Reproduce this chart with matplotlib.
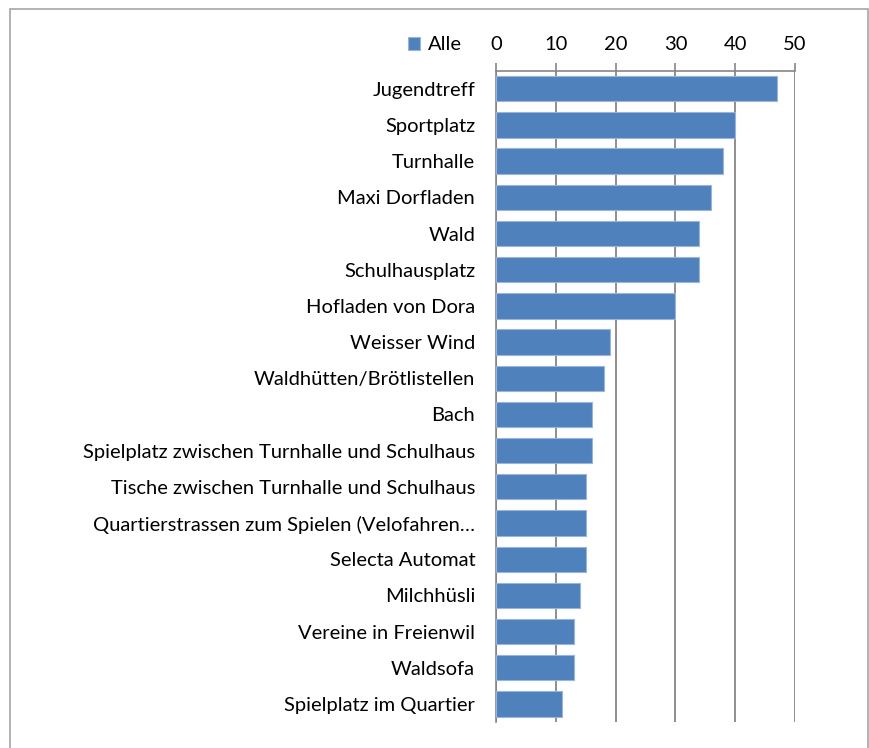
import matplotlib
matplotlib.use("Agg")
import matplotlib.pyplot as plt
from matplotlib.patches import Rectangle

plt.rcParams["font.family"] = ["Lato", "DejaVu Sans"]

# data (top to bottom as in the chart)
orte = [
    "Jugendtreff",
    "Sportplatz",
    "Turnhalle",
    "Maxi Dorfladen",
    "Wald",
    "Schulhausplatz",
    "Hofladen von Dora",
    "Weisser Wind",
    "Waldhütten/Brötlistellen",
    "Bach",
    "Spielplatz zwischen Turnhalle und Schulhaus",
    "Tische zwischen Turnhalle und Schulhaus",
    "Quartierstrassen zum Spielen (Velofahren…",
    "Selecta Automat",
    "Milchhüsli",
    "Vereine in Freienwil",
    "Waldsofa",
    "Spielplatz im Quartier",
]
alle = [47, 40, 38, 36, 34, 34, 30, 19, 18, 16, 16, 15, 15, 15, 14, 13, 13, 11]
x_ticks = [0, 10, 20, 30, 40, 50]

W, H = 869, 748
fig = plt.figure(figsize=(W / 100, H / 100), dpi=100)

# outer chart border (bottom edge lies outside the picture)
fig.patches.append(Rectangle((10 / W, -0.02), 858 / W, (H - 9) / H + 0.02, transform=fig.transFigure,
                             fill=False, edgecolor="#a6a6a6", linewidth=1.2))

ax = fig.add_axes([496 / W, 1 - 722 / H, (795 - 496) / W, (722 - 70.7) / H])

pos = list(range(len(orte)))
ax.barh(pos, alle, height=0.7, color="#4f81bd", edgecolor="#9bb5d8", linewidth=0.8,
        label="Alle", zorder=3)
ax.set_ylim(len(orte) - 0.5, -0.5)
ax.set_xlim(0, 50)
ax.set_yticks(pos)
ax.set_yticklabels(orte, fontsize=14.5)
ax.set_xticks(x_ticks)
ax.set_xticklabels([str(t) for t in x_ticks], fontsize=14.5)

ax.xaxis.tick_top()
ax.tick_params(axis="x", length=6, color="#868686", width=1.2, pad=7)
ax.tick_params(axis="y", length=0, pad=15)
ax.grid(axis="x", color="#868686", linewidth=1.3, zorder=0)

for s in ["right", "bottom"]:
    ax.spines[s].set_visible(False)
ax.spines["top"].set_color("#868686")
ax.spines["left"].set_color("#868686")
ax.spines["top"].set_linewidth(1.2)
ax.spines["left"].set_linewidth(1.2)

fig.legend(loc="center right", bbox_to_anchor=(470 / W, 1 - 45 / H), frameon=False,
           fontsize=14.5, handlelength=0.6, handleheight=0.6, handletextpad=0.4,
           borderaxespad=0)

fig.savefig("out.png", dpi=100, facecolor="white")
